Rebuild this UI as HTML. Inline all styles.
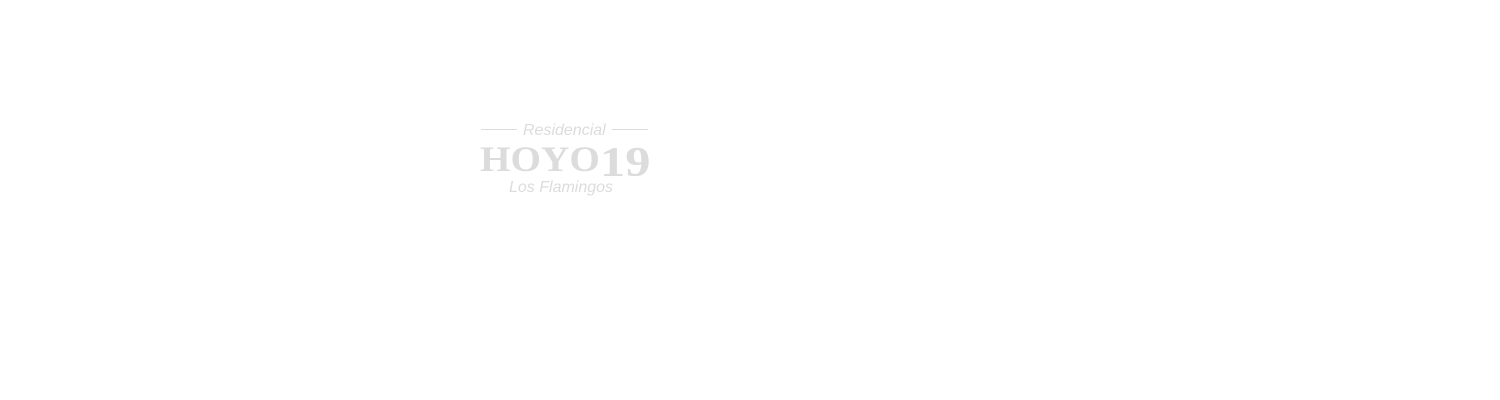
<!DOCTYPE html>
<html><head><meta charset="utf-8"><style>
html,body{margin:0;padding:0;background:#fff;width:1500px;height:400px;overflow:hidden;position:relative}
.t{position:absolute;color:#dcdcdc;white-space:nowrap;line-height:1}
.i{font-family:"Liberation Sans",sans-serif;font-style:italic;font-size:16px}
.line{position:absolute;height:1px;background:#dcdcdc}
</style></head><body>
<div class="line" style="left:481px;top:129px;width:36px"></div>
<div class="line" style="left:612px;top:129px;width:36px"></div>
<div class="t i" style="left:523px;top:123px">Residencial</div>
<div class="t" style="left:480px;top:141px;font-family:'Liberation Serif',serif;font-weight:bold;font-size:36px;transform:scaleX(1.09);transform-origin:0 0">HOYO</div>
<div class="t" style="left:600px;top:142px;font-family:'Liberation Serif',serif;font-weight:bold;font-size:42px;transform:scaleX(1.2);transform-origin:0 0">19</div>
<div class="t i" style="left:509px;top:180px">Los Flamingos</div>
</body></html>
